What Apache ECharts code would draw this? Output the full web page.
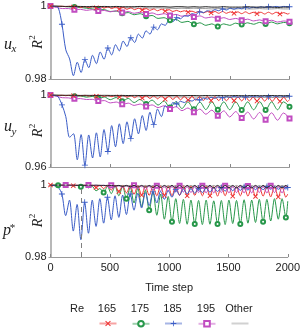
<!DOCTYPE html>
<html><head><meta charset="utf-8">
<script src="https://cdn.jsdelivr.net/npm/echarts@6/dist/echarts.min.js"></script>
<style>html,body{margin:0;padding:0;background:#fff}#c{width:303px;height:328px}</style>
</head><body><div id="c"></div>
<script>
// ---------- data ----------
const stepsFast = [0,32,64,96,128,160,192,224,256,288,320,352,384,416,448,480,512,544,576,608,640,672,704,736,768,800,832,864,896,928,960,992,1024,1056,1088,1120,1152,1184,1216,1248,1280,1312,1344,1376,1408,1440,1472,1504,1536,1568,1600,1632,1664,1696,1728,1760,1792,1824,1856,1888,1920,1952,1984,2000];
const stepsSlow = [0,50,100,150,200,250,300,350,400,450,500,550,600,650,700,750,800,850,900,950,1000,1050,1100,1150,1200,1250,1300,1350,1400,1450,1500,1550,1600,1650,1700,1750,1800,1850,1900,1950,2000];
const xTicks = [0,500,1000,1500,2000];
const yRanges = [[0.98,1],[0.96,1],[0.98,1]];
const reLabels = ['165','175','185','195','Other'];
const dashedStep = 260;

// panel 1: u_x
const ux165 = [1.0000,1.0000,0.9999,1.0000,0.9998,1.0000,0.9997,1.0000,0.9996,0.9999,
 0.9995,0.9999,0.9995,0.9999,0.9994,0.9998,0.9993,0.9997,0.9992,0.9996,
 0.9991,0.9995,0.9990,0.9994,0.9989,0.9993,0.9988,0.9992,0.9987,0.9991,
 0.9986,0.9990,0.9985,0.9988,0.9984,0.9987,0.9983,0.9986,0.9982,0.9986,
 0.9981,0.9985,0.9981,0.9985,0.9980,0.9985,0.9980,0.9984,0.9980,0.9984,
 0.9979,0.9984,0.9979,0.9983,0.9979,0.9983,0.9978,0.9983,0.9978,0.9983,
 0.9978,0.9982,0.9978,0.9980];
const ux175 = [1.0000,1.0000,0.9999,0.9998,0.9997,0.9996,0.9994,0.9992,0.9990,0.9990,
 0.9985,0.9986,0.9980,0.9982,0.9976,0.9979,0.9972,0.9974,0.9966,0.9968,
 0.9961,0.9963,0.9955,0.9958,0.9950,0.9954,0.9947,0.9951,0.9944,0.9951,
 0.9947,0.9953,0.9949,0.9954,0.9950,0.9955,0.9951,0.9956,0.9951,0.9955,
 0.9953];
const ux185 = [1.0000,0.9999,0.9996,0.9950,0.9880,0.9855,0.9809,0.9846,0.9818,0.9853,
 0.9831,0.9865,0.9842,0.9874,0.9854,0.9885,0.9866,0.9894,0.9877,0.9904,
 0.9889,0.9913,0.9900,0.9923,0.9912,0.9932,0.9923,0.9942,0.9935,0.9951,
 0.9947,0.9961,0.9957,0.9968,0.9965,0.9973,0.9972,0.9979,0.9977,0.9984,
 0.9982,0.9987,0.9985,0.9990,0.9987,0.9992,0.9989,0.9994,0.9991,0.9995,
 0.9992,0.9997,0.9994,0.9997,0.9995,0.9998,0.9996,0.9998,0.9997,0.9999,
 0.9997,0.9999,0.9998,0.9998];
const ux195 = [1.0000,0.9996,0.9993,0.9993,0.9990,0.9991,0.9988,0.9990,0.9986,0.9988,
 0.9984,0.9987,0.9982,0.9985,0.9980,0.9983,0.9978,0.9981,0.9976,0.9979,
 0.9974,0.9977,0.9972,0.9975,0.9970,0.9973,0.9967,0.9970,0.9965,0.9968,
 0.9963,0.9966,0.9961,0.9964,0.9959,0.9962,0.9958,0.9961,0.9956,0.9959,
 0.9957];
const uxOtherA = [1.0000,1.0000,0.9999,0.9999,0.9999,0.9999,0.9998,0.9999,0.9998,0.9999,
 0.9998,0.9999,0.9998,0.9998,0.9998,0.9999,0.9998,0.9998,0.9998,0.9998,
 0.9997,0.9998,0.9998,0.9997,0.9998,0.9997,0.9998,0.9997,0.9997,0.9998,
 0.9997,0.9997,0.9997,0.9998,0.9997,0.9997,0.9997,0.9997,0.9996,0.9997,
 0.9997];
const uxOtherB = [1.0000,0.9999,0.9999,0.9998,0.9998,0.9997,0.9997,0.9996,0.9997,0.9996,
 0.9996,0.9995,0.9996,0.9995,0.9995,0.9994,0.9995,0.9994,0.9995,0.9994,
 0.9994,0.9993,0.9994,0.9993,0.9994,0.9993,0.9993,0.9992,0.9993,0.9992,
 0.9993,0.9992,0.9993,0.9992,0.9992,0.9993,0.9992,0.9992,0.9993,0.9992,
 0.9992];

// panel 2: u_y
const uy165 = [1.0000,0.9999,0.9997,1.0000,0.9996,1.0000,0.9996,0.9999,0.9995,0.9999,
 0.9994,0.9999,0.9993,0.9999,0.9992,0.9998,0.9991,0.9998,0.9989,0.9998,
 0.9987,0.9997,0.9985,0.9997,0.9983,0.9996,0.9981,0.9996,0.9979,0.9995,
 0.9977,0.9995,0.9975,0.9994,0.9973,0.9993,0.9972,0.9993,0.9971,0.9992,
 0.9970,0.9992,0.9969,0.9991,0.9969,0.9991,0.9968,0.9990,0.9968,0.9990,
 0.9967,0.9990,0.9967,0.9989,0.9966,0.9989,0.9966,0.9988,0.9965,0.9988,
 0.9965,0.9988,0.9964,0.9975];
const uy175 = [1.0000,0.9999,0.9998,0.9998,0.9993,0.9995,0.9988,0.9992,0.9981,0.9989,
 0.9974,0.9986,0.9965,0.9981,0.9958,0.9976,0.9950,0.9972,0.9944,0.9967,
 0.9930,0.9963,0.9925,0.9962,0.9921,0.9961,0.9919,0.9962,0.9918,0.9962,
 0.9918,0.9962,0.9917,0.9962,0.9918,0.9963,0.9917,0.9962,0.9918,0.9962,
 0.9935];
const uy185 = [1.0000,0.9998,0.9990,0.9945,0.9880,0.9765,0.9785,0.9640,0.9780,0.9610,
 0.9778,0.9650,0.9790,0.9656,0.9808,0.9686,0.9830,0.9712,0.9840,0.9730,
 0.9851,0.9758,0.9868,0.9784,0.9886,0.9803,0.9904,0.9835,0.9922,0.9880,
 0.9940,0.9925,0.9958,0.9950,0.9965,0.9958,0.9972,0.9966,0.9978,0.9972,
 0.9983,0.9977,0.9987,0.9981,0.9990,0.9984,0.9992,0.9986,0.9993,0.9987,
 0.9994,0.9988,0.9995,0.9989,0.9995,0.9989,0.9996,0.9990,0.9996,0.9990,
 0.9996,0.9990,0.9996,0.9993];
const uy195 = [1.0000,0.9993,0.9985,0.9984,0.9979,0.9980,0.9975,0.9976,0.9966,0.9969,
 0.9956,0.9961,0.9948,0.9955,0.9942,0.9950,0.9936,0.9945,0.9930,0.9940,
 0.9922,0.9935,0.9913,0.9928,0.9904,0.9922,0.9893,0.9916,0.9885,0.9912,
 0.9878,0.9908,0.9872,0.9905,0.9867,0.9903,0.9863,0.9901,0.9860,0.9900,
 0.9870];
const uyOtherA = [1.0000,1.0000,0.9999,0.9999,0.9999,0.9998,0.9999,0.9998,0.9998,0.9999,
 0.9998,0.9998,0.9998,0.9997,0.9998,0.9997,0.9998,0.9997,0.9997,0.9998,
 0.9997,0.9997,0.9996,0.9997,0.9997,0.9996,0.9997,0.9996,0.9997,0.9996,
 0.9996,0.9997,0.9996,0.9996,0.9997,0.9996,0.9996,0.9997,0.9996,0.9996,
 0.9996];
const uyOtherB = [1.0000,0.9999,0.9998,0.9997,0.9996,0.9995,0.9994,0.9994,0.9993,0.9993,
 0.9992,0.9992,0.9991,0.9992,0.9991,0.9990,0.9991,0.9990,0.9990,0.9989,
 0.9990,0.9989,0.9989,0.9988,0.9989,0.9988,0.9988,0.9987,0.9988,0.9987,
 0.9987,0.9988,0.9987,0.9986,0.9987,0.9986,0.9987,0.9986,0.9986,0.9987,
 0.9986];

// panel 3: p*
const p165 = [1.0000,1.0000,0.9999,1.0000,0.9999,1.0000,0.9998,1.0000,0.9997,1.0000,
 0.9995,1.0000,0.9993,0.9999,0.9990,0.9999,0.9986,0.9999,0.9982,0.9998,
 0.9978,0.9998,0.9974,0.9998,0.9972,0.9997,0.9971,0.9997,0.9970,0.9997,
 0.9971,0.9997,0.9970,0.9997,0.9971,0.9997,0.9970,0.9997,0.9971,0.9997,
 0.9970,0.9997,0.9970,0.9996,0.9969,0.9997,0.9970,0.9996,0.9969,0.9996,
 0.9970,0.9996,0.9969,0.9996,0.9968,0.9996,0.9969,0.9996,0.9967,0.9996,
 0.9967,0.9996,0.9966,0.9975];
const p175 = [1.0000,1.0000,0.9999,1.0000,0.9998,1.0000,0.9997,0.9999,0.9995,0.9998,
 0.9992,0.9996,0.9984,0.9990,0.9979,0.9996,0.9976,0.9997,0.9970,0.9996,
 0.9962,0.9994,0.9950,0.9991,0.9940,0.9986,0.9930,0.9982,0.9916,0.9975,
 0.9905,0.9968,0.9898,0.9962,0.9893,0.9960,0.9891,0.9958,0.9892,0.9957,
 0.9890,0.9958,0.9891,0.9956,0.9892,0.9957,0.9890,0.9958,0.9893,0.9957,
 0.9892,0.9959,0.9894,0.9958,0.9896,0.9960,0.9898,0.9960,0.9900,0.9962,
 0.9905,0.9962,0.9910,0.9955];
const p185 = [1.0000,0.9998,0.9994,0.9975,0.9915,0.9958,0.9872,0.9946,0.9848,0.9952,
 0.9866,0.9958,0.9885,0.9962,0.9894,0.9966,0.9903,0.9970,0.9910,0.9972,
 0.9918,0.9975,0.9930,0.9977,0.9936,0.9979,0.9943,0.9981,0.9950,0.9983,
 0.9960,0.9985,0.9966,0.9988,0.9972,0.9989,0.9975,0.9990,0.9977,0.9991,
 0.9979,0.9992,0.9980,0.9993,0.9982,0.9993,0.9983,0.9994,0.9984,0.9994,
 0.9985,0.9995,0.9986,0.9995,0.9987,0.9996,0.9987,0.9996,0.9988,0.9996,
 0.9988,0.9996,0.9989,0.9993];
const p195 = [1.0000,0.9999,1.0000,0.9999,1.0000,0.9999,1.0000,0.9999,1.0000,0.9999,
 1.0000,0.9998,1.0000,0.9998,1.0000,0.9997,0.9999,0.9995,0.9999,0.9993,
 0.9999,0.9991,0.9999,0.9989,0.9998,0.9987,0.9998,0.9985,0.9998,0.9983,
 0.9998,0.9982,0.9998,0.9981,0.9998,0.9980,0.9998,0.9979,0.9998,0.9979,
 0.9998,0.9978,0.9998,0.9978,0.9997,0.9979,0.9998,0.9978,0.9997,0.9979,
 0.9998,0.9978,0.9997,0.9978,0.9998,0.9979,0.9997,0.9978,0.9998,0.9979,
 0.9997,0.9978,0.9998,0.9990];
const pOtherA = [1.0000,1.0000,1.0000,1.0000,1.0000,1.0000,1.0000,0.9999,1.0000,0.9999,
 1.0000,0.9999,1.0000,0.9999,0.9999,0.9998,0.9999,0.9997,0.9999,0.9996,
 0.9999,0.9995,0.9999,0.9994,0.9999,0.9994,0.9999,0.9993,0.9999,0.9993,
 0.9999,0.9993,0.9999,0.9992,0.9999,0.9992,0.9999,0.9992,0.9999,0.9992,
 0.9999,0.9992,0.9999,0.9992,0.9999,0.9992,0.9999,0.9992,0.9999,0.9992,
 0.9999,0.9992,0.9999,0.9992,0.9999,0.9992,0.9999,0.9992,0.9999,0.9992,
 0.9999,0.9992,0.9999,0.9995];
const pOtherB = [1.0000,1.0000,1.0000,1.0000,1.0000,1.0000,1.0000,1.0000,0.9999,1.0000,
 0.9999,1.0000,0.9999,1.0000,0.9998,1.0000,0.9998,0.9999,0.9997,0.9999,
 0.9996,0.9999,0.9996,0.9999,0.9995,0.9999,0.9995,0.9999,0.9995,0.9999,
 0.9994,0.9999,0.9994,0.9999,0.9994,0.9999,0.9994,0.9999,0.9994,0.9999,
 0.9994,0.9999,0.9994,0.9999,0.9994,0.9999,0.9994,0.9999,0.9994,0.9999,
 0.9994,0.9999,0.9994,0.9999,0.9994,0.9999,0.9994,0.9999,0.9994,0.9999,
 0.9994,0.9999,0.9994,0.9997];

// ---------- styling ----------
const FONT = '"Liberation Sans", Arial, sans-serif';
const SERIF = '"Liberation Serif", "DejaVu Serif", serif';
const SYM_X = 'path://M0,1.3 L1.3,0 L5,3.7 L8.7,0 L10,1.3 L6.3,5 L10,8.7 L8.7,10 L5,6.3 L1.3,10 L0,8.7 L3.7,5 Z';
const SYM_PLUS = 'path://M4.3,0 L5.7,0 L5.7,4.3 L10,4.3 L10,5.7 L5.7,5.7 L5.7,10 L4.3,10 L4.3,5.7 L0,5.7 L0,4.3 L4.3,4.3 Z';
const look = {
  '165': {color:'#ee3333', symbol:SYM_X, size:5},
  '175': {color:'#27974a', symbol:'emptyCircle', size:4},
  '185': {color:'#3a5cc6', symbol:SYM_PLUS, size:6},
  '195': {color:'#c14cc1', symbol:'emptyRect', size:4}
};
const grids = [
  {left:50.5, width:239, top:6, height:73},
  {left:50.5, width:239, top:95, height:72},
  {left:50.5, width:239, top:185, height:72}
];

function mk(name, panel, steps, vals, every, offset, extra) {
  const lk = look[name];
  const data = vals.map((v, i) => ({
    value: [steps[i], v],
    symbol: (i % every === offset) ? lk.symbol : 'none'
  }));
  return Object.assign({
    type:'line', name, xAxisIndex:panel, yAxisIndex:panel, data,
    smooth:0.3, color:lk.color, symbol:lk.symbol, symbolSize:lk.size,
    showSymbol:true, showAllSymbol:true,
    itemStyle:{borderWidth:1},
    lineStyle:{width:1, color:lk.color}, emphasis:{disabled:true}, z:3
  }, extra || {});
}
function other(panel, steps, vals, color, z) {
  return {
    type:'line', name:'Other', xAxisIndex:panel, yAxisIndex:panel,
    data: vals.map((v, i) => [steps[i], v]), smooth:0.3, color,
    symbol:'none', lineStyle:{width:1, color}, emphasis:{disabled:true}, z
  };
}

const series = [
  other(0, stepsSlow, uxOtherB, '#9a9a9a', 2),
  mk('175', 0, stepsSlow, ux175, 4, 0),
  mk('195', 0, stepsSlow, ux195, 4, 0),
  mk('165', 0, stepsFast, ux165, 6, 0),
  mk('185', 0, stepsFast, ux185, 6, 3),
  other(0, stepsSlow, uxOtherA, '#222222', 4),

  other(1, stepsSlow, uyOtherB, '#9a9a9a', 2),
  mk('175', 1, stepsSlow, uy175, 4, 0),
  mk('195', 1, stepsSlow, uy195, 4, 0),
  mk('165', 1, stepsFast, uy165, 6, 0),
  mk('185', 1, stepsFast, uy185, 6, 3),
  other(1, stepsSlow, uyOtherA, '#222222', 4),

  other(2, stepsFast, pOtherB, '#9a9a9a', 2),
  mk('175', 2, stepsFast, p175, 6, 2),
  mk('165', 2, stepsFast, p165, 6, 0),
  mk('195', 2, stepsFast, p195, 6, 4),
  mk('185', 2, stepsFast, p185, 6, 3, {
    markLine:{silent:true, symbol:'none', label:{show:false},
      lineStyle:{type:[5,4], color:'#808080', width:1},
      data:[{xAxis:dashedStep}]}
  }),
  other(2, stepsFast, pOtherA, '#222222', 4)
];

const xAxis = grids.map((g, k) => ({
  gridIndex:k, type:'value', min:xTicks[0], max:xTicks[xTicks.length-1],
  interval:xTicks[1]-xTicks[0],
  axisLine:{onZero:false, lineStyle:{color:'#9a9a9a', width:1}},
  axisTick:{inside:true, length:3, lineStyle:{color:'#888'}},
  axisLabel:{show:k===2, fontSize:11, color:'#222', fontFamily:FONT, margin:5,
    formatter: v => String(v)},
  splitLine:{show:false},
  name: k===2 ? 'Time step' : '', nameLocation:'middle', nameGap:25,
  nameTextStyle:{fontSize:11, color:'#222', fontFamily:FONT}
}));
const yAxis = grids.map((g, k) => ({
  gridIndex:k, type:'value', min:yRanges[k][0], max:yRanges[k][1],
  interval:yRanges[k][1]-yRanges[k][0],
  axisLine:{show:true, lineStyle:{color:'#a0a0a0', width:1.5}},
  axisTick:{show:true, length:2, lineStyle:{color:'#a0a0a0'}},
  axisLabel:{fontSize:11, color:'#222', fontFamily:FONT, margin:4,
    formatter: v => (Math.abs(v-1) < 1e-9 ? '1' : String(+v.toFixed(2)))},
  splitLine:{show:false}
}));

const legendCenters = [107, 140, 172.5, 206, 239];
const legend = reLabels.map((name, k) => ({
  data:[name], left:legendCenters[k]-8.5, top:320, padding:0,
  itemWidth:17, itemHeight:7, itemGap:0, selectedMode:false,
  formatter:() => '', textStyle:{fontSize:1},
  lineStyle:{opacity:0.45, width:2},
  itemStyle: name === 'Other' ? {opacity:0} : {borderWidth:1}
}));

function txt(x, y, text, font, extra) {
  return Object.assign({type:'text', x, y, silent:true,
    style:{text, font, fill:'#222', align:'center', verticalAlign:'middle'}}, extra || {});
}
const graphic = [
  txt(77, 309, 'Re', '11px ' + FONT),
  ...reLabels.map((s, k) => txt(legendCenters[k], 309, s, '11px ' + FONT)),
  txt(8, 45, 'u', 'italic 16px ' + SERIF), txt(14, 49.5, 'x', 'italic 11px ' + SERIF),
  txt(8, 127, 'u', 'italic 16px ' + SERIF), txt(14, 132.5, 'y', 'italic 11px ' + SERIF),
  txt(7, 231, 'p', 'italic 16px ' + SERIF), txt(12.5, 228, '*', '11px ' + SERIF),
  ...[42.5, 131, 221].map(cy => ({
    type:'group', x:38, y:cy, rotation:Math.PI/2, silent:true,
    children:[
      txt(-2, 0, 'R', 'italic 14px ' + SERIF),
      txt(5, -5, '2', '9px ' + SERIF)
    ]
  }))
];

const chart = echarts.init(document.getElementById('c'), null, {renderer:'canvas'});
chart.setOption({
  animation:false, backgroundColor:'#fff',
  grid:grids, xAxis, yAxis, series, legend, graphic
});
</script>
</body></html>
